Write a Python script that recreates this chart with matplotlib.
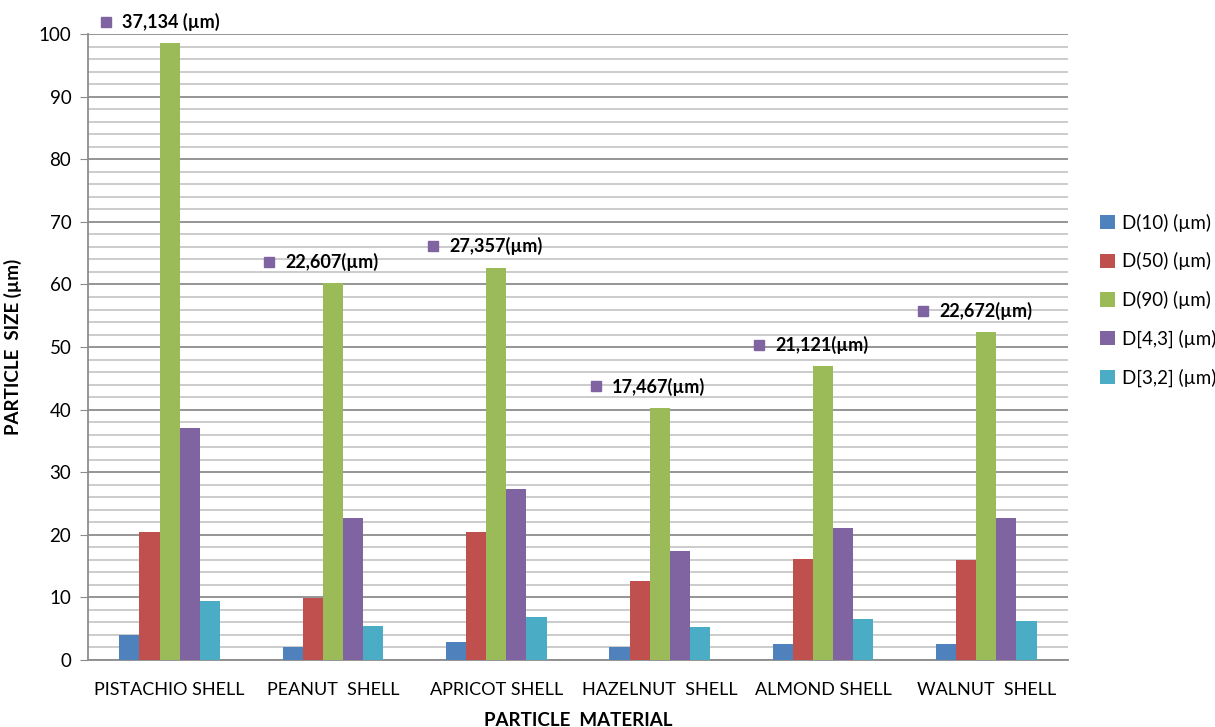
import matplotlib.pyplot as plt
import numpy as np

plt.rcParams['font.family'] = ['Lato', 'DejaVu Sans']

# particle size distribution per shell material
materials = ['PISTACHIO SHELL', 'PEANUT  SHELL', 'APRICOT SHELL',
             'HAZELNUT  SHELL', 'ALMOND SHELL', 'WALNUT  SHELL']
series_names = ['D(10) (µm)', 'D(50) (µm)', 'D(90) (µm)', 'D[4,3] (µm)', 'D[3,2] (µm)']
d10 = [4.0, 2.1, 2.8, 2.1, 2.5, 2.5]
d50 = [20.4, 9.9, 20.5, 12.6, 16.1, 15.9]
d90 = [98.6, 60.2, 62.7, 40.3, 47.0, 52.4]
d43 = [37.134, 22.607, 27.357, 17.467, 21.121, 22.672]
d32 = [9.4, 5.4, 6.9, 5.3, 6.5, 6.3]
colors = ['#4F81BD', '#C0504D', '#9BBB59', '#8064A2', '#4BACC6']

fig = plt.figure(figsize=(12.15, 7.27), dpi=100)
ax = fig.add_axes([0.0724, 0.0922, 0.8066, 0.8608])

x = np.arange(len(materials))
w = 0.123
all_series = [d10, d50, d90, d43, d32]
for k, (vals, name, c) in enumerate(zip(all_series, series_names, colors)):
    ax.bar(x + (k - 2) * w, vals, w, color=c, label=name, zorder=3)

# D[4,3] labels with their legend key, above each D90 bar
for i, v in enumerate(d43):
    txt = f'{v:.3f}'.replace('.', ',')
    txt = txt + (' (µm)' if i == 0 else '(µm)')
    ly = d90[i] + 3.4
    ax.plot(x[i] - 0.39, ly, 's', color='#8064A2', markersize=7, clip_on=False, zorder=5)
    ax.text(x[i] - 0.29, ly, txt, fontsize=13, fontweight='bold', va='center',
            ha='left', color='black', clip_on=False, zorder=5)

ax.set_xlim(-0.5, len(materials) - 0.5)
ax.set_ylim(0, 100)
ax.set_yticks(np.arange(0, 101, 10))
ax.set_yticks(np.arange(0, 101, 2), minor=True)
ax.grid(axis='y', which='minor', color='#c8c8c8', linewidth=1.3, zorder=0)
ax.grid(axis='y', which='major', color='#8c8c8c', linewidth=1.3, zorder=0)
ax.tick_params(axis='y', which='major', length=6, color='#8c8c8c', labelsize=13.5, pad=6)
ax.tick_params(axis='y', which='minor', length=0)
ax.set_xticks(x)
ax.set_xticklabels(materials, fontsize=13)
ax.tick_params(axis='x', length=0, pad=16)

for side in ['top', 'right']:
    ax.spines[side].set_visible(False)
for side in ['left', 'bottom']:
    ax.spines[side].set_color('#8c8c8c')
    ax.spines[side].set_linewidth(1.3)

ax.set_ylabel('PARTICLE  SIZE (µm)', fontsize=13.5, fontweight='bold', labelpad=12)
ax.set_xlabel('PARTICLE  MATERIAL', fontsize=13.5, fontweight='bold', labelpad=10)

ax.legend(loc='center left', bbox_to_anchor=(1.015, 0.575), frameon=False,
          fontsize=13.5, handlelength=0.8, handleheight=0.8, handletextpad=0.4,
          labelspacing=1.1)

fig.savefig('out.png', dpi=100)
